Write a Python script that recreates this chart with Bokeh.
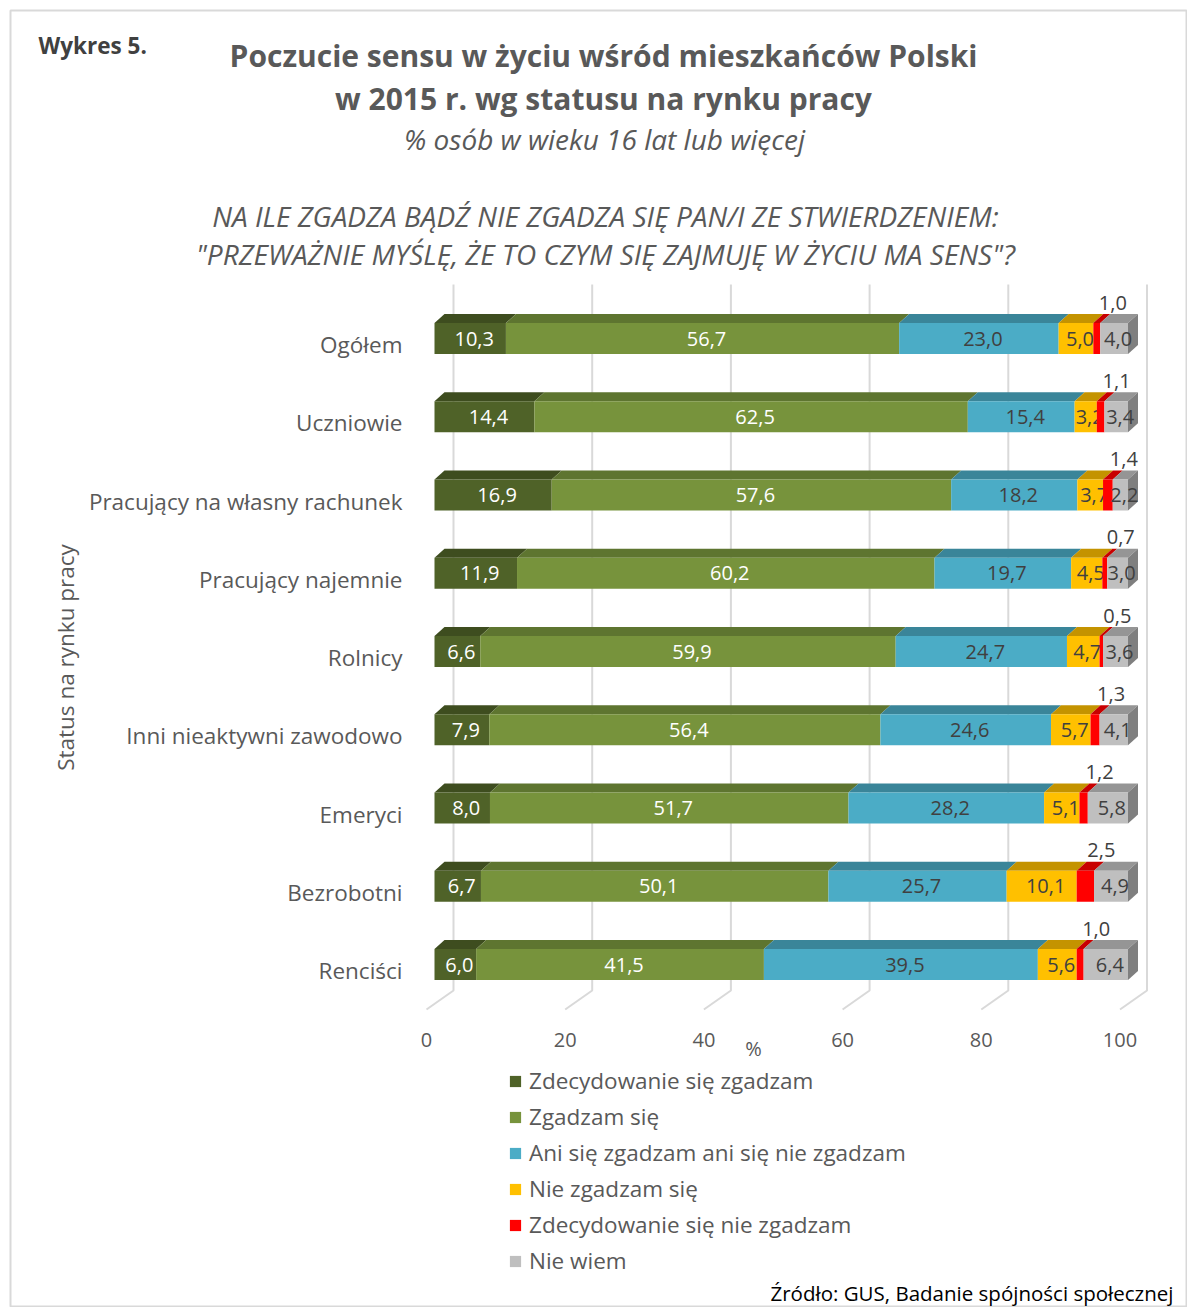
import math
from bokeh.plotting import figure
from bokeh.models import Range1d, Legend, LegendItem, ColumnDataSource
from bokeh.core.properties import value
from bokeh.embed import file_html
from bokeh.resources import INLINE

# ---------------- data ----------------
categories = ["Ogółem", "Uczniowie", "Pracujący na własny rachunek", "Pracujący najemnie",
              "Rolnicy", "Inni nieaktywni zawodowo", "Emeryci", "Bezrobotni", "Renciści"]
series_names = ["Zdecydowanie się zgadzam", "Zgadzam się", "Ani się zgadzam ani się nie zgadzam",
                "Nie zgadzam się", "Zdecydowanie się nie zgadzam", "Nie wiem"]
zdecydowanie_zgadzam = [10.3, 14.4, 16.9, 11.9, 6.6, 7.9, 8.0, 6.7, 6.0]
zgadzam = [56.7, 62.5, 57.6, 60.2, 59.9, 56.4, 51.7, 50.1, 41.5]
ani_ani = [23.0, 15.4, 18.2, 19.7, 24.7, 24.6, 28.2, 25.7, 39.5]
nie_zgadzam = [5.0, 3.2, 3.7, 4.5, 4.7, 5.7, 5.1, 10.1, 5.6]
zdecydowanie_nie = [1.0, 1.1, 1.4, 0.7, 0.5, 1.3, 1.2, 2.5, 1.0]
nie_wiem = [4.0, 3.4, 2.2, 3.0, 3.6, 4.1, 5.8, 4.9, 6.4]
x_ticks = [0, 20, 40, 60, 80, 100]
x_tick_labels = ["0", "20", "40", "60", "80", "100"]

series_values = [zdecydowanie_zgadzam, zgadzam, ani_ani, nie_zgadzam, zdecydowanie_nie, nie_wiem]
front_colors = ["#4F6228", "#77933C", "#4BACC6", "#FFC000", "#FF0000", "#BFBFBF"]
top_colors = ["#3E4D1F", "#5E7530", "#3A8599", "#C49300", "#C80000", "#959595"]
side_color = "#7F7F7F"
label_colors = ["#FFFFFF", "#FFFFFF", "#404040", "#404040", "#404040", "#404040"]

FONT = "Open Sans"
TXT = "#595959"

# ---------------- geometry (pixel <-> data) ----------------
W, H = 1187, 1307
SX = 6.935   # px per percent
SY = 78.25   # px per row
X0PX, Y0PX = 434.0, 338.0
LEFT, TOP = 10, 10


def X(px):
    return (px - X0PX) / SX


def Y(py):
    return (Y0PX - py) / SY


BAR_H = 31.0 / SY
DX = 10.0 / SX
DY = 9.0 / SY
GRID_DX = 19.0 / SX
FLOOR_DX = 27.0 / SX

p = figure(width=W, height=H, x_range=Range1d(X(LEFT), X(W)), y_range=Range1d(Y(H), Y(TOP)),
           output_backend="svg", toolbar_location=None, x_axis_location=None, y_axis_location=None,
           min_border_left=LEFT, min_border_top=TOP, min_border_right=0, min_border_bottom=0)
p.outline_line_color = "#D9D9D9"
p.outline_line_width = 2
p.background_fill_color = "white"
p.border_fill_color = "white"
p.grid.visible = False

rows = [-i for i in range(len(categories))]

# ---------------- gridlines (back wall + floor) ----------------
g_xs = [[t + GRID_DX, t + GRID_DX, t + GRID_DX - FLOOR_DX] for t in x_ticks]
g_ys = [[Y(284), Y(990), Y(1009)] for _ in x_ticks]
p.multi_line(xs=g_xs, ys=g_ys, line_color="#D9D9D9", line_width=2)

# ---------------- 3D stacked bars ----------------
cum = [0.0] * len(categories)
legend_items = []
n_series = len(series_values)
for s, vals in enumerate(series_values):
    lefts = list(cum)
    rights = [c + v for c, v in zip(cum, vals)]
    top_xs, top_ys = [], []
    for y, x0, x1 in zip(rows, lefts, rights):
        yt = y + BAR_H / 2
        top_xs.append([x0, x1, x1 + DX, x0 + DX])
        top_ys.append([yt, yt, yt + DY, yt + DY])
    p.patches(xs=top_xs, ys=top_ys, fill_color=top_colors[s], line_color=None)
    if s == n_series - 1:
        sxs, sys_ = [], []
        for y, x1 in zip(rows, rights):
            yt = y + BAR_H / 2
            yb = y - BAR_H / 2
            sxs.append([x1, x1 + DX, x1 + DX, x1])
            sys_.append([yt, yt + DY, yb + DY, yb])
        p.patches(xs=sxs, ys=sys_, fill_color=side_color, line_color=None)
    src = ColumnDataSource(dict(y=rows, left=lefts, right=rights))
    r = p.hbar(y="y", left="left", right="right", height=BAR_H, source=src,
               fill_color=front_colors[s], line_color=None)
    legend_items.append(LegendItem(label=series_names[s], renderers=[r]))

    # value labels
    mids = [(a + b) / 2 for a, b in zip(lefts, rights)]
    texts = [f"{v:.1f}".replace(".", ",") for v in vals]
    if s == 4:
        p.text(x=mids, y=rows, text=texts, x_offset=16, y_offset=-36,
               text_align="center", text_baseline="middle", text_font=value(FONT),
               text_font_size="20px", text_color=label_colors[s])
    else:
        p.text(x=mids, y=rows, text=texts, x_offset=4,
               text_align="center", text_baseline="middle", text_font=value(FONT),
               text_font_size="20px", text_color=label_colors[s])
    cum = rights

# ---------------- category labels ----------------
p.text(x=[X(402)] * len(categories), y=rows, text=categories, y_offset=6,
       text_align="right", text_baseline="middle", text_font=value(FONT),
       text_font_size="22.5px", text_color=TXT)

# ---------------- x tick labels ----------------
p.text(x=x_ticks, y=[Y(1039)] * len(x_ticks), text=x_tick_labels, x_offset=-8,
       text_align="center", text_baseline="middle", text_font=value(FONT),
       text_font_size="20px", text_color=TXT)
p.text(x=[X(753)], y=[Y(1048)], text=["%"], text_align="center", text_baseline="middle",
       text_font=value(FONT), text_font_size="20px", text_color=TXT)

# y axis title
p.text(x=[X(65)], y=[Y(657)], text=["Status na rynku pracy"], angle=math.pi / 2,
       text_align="center", text_baseline="middle", text_font=value(FONT),
       text_font_size="22.5px", text_color=TXT)

# ---------------- titles ----------------
p.text(x=[X(38)], y=[Y(45)], text=["Wykres 5."], text_align="left", text_baseline="middle",
       text_font=value(FONT), text_font_style="bold", text_font_size="22.5px", text_color="#404040")
p.text(x=[X(603), X(603)], y=[Y(55), Y(98)],
       text=["Poczucie sensu w życiu wśród mieszkańców Polski", "w 2015 r. wg statusu na rynku pracy"],
       text_align="center", text_baseline="middle", text_font=value(FONT), text_font_style="bold",
       text_font_size="30px", text_color=TXT)
p.text(x=[X(604)], y=[Y(138)], text=["% osób w wieku 16 lat lub więcej"],
       text_align="center", text_baseline="middle", text_font=value(FONT), text_font_style="italic",
       text_font_size="28px", text_color=TXT)
p.text(x=[X(605), X(605)], y=[Y(215), Y(253)],
       text=["NA ILE ZGADZA BĄDŹ NIE ZGADZA SIĘ PAN/I ZE STWIERDZENIEM:",
             "\"PRZEWAŻNIE MYŚLĘ, ŻE TO CZYM SIĘ ZAJMUJĘ W ŻYCIU MA SENS\"?"],
       text_align="center", text_baseline="middle", text_font=value(FONT), text_font_style="italic",
       text_font_size="28px", text_color=TXT)

# source
p.text(x=[X(770)], y=[Y(1292)], text=["Źródło: GUS, Badanie spójności społecznej"],
       text_align="left", text_baseline="middle", text_font=value(FONT),
       text_font_size="20.5px", text_color="#000000")

# ---------------- legend ----------------
legend = Legend(items=legend_items, location=(498, 31), orientation="vertical",
                glyph_width=14, glyph_height=14, label_standoff=7, spacing=5,
                padding=0, margin=0, border_line_color=None, background_fill_alpha=0,
                label_text_font=FONT, label_text_font_size="22.5px", label_text_color=TXT)
p.add_layout(legend)

open("out.html", "w").write(file_html(p, INLINE))
